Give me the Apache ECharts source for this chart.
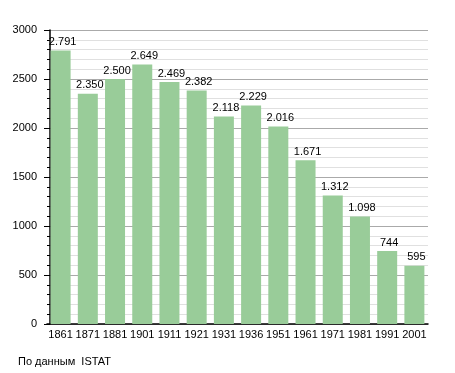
<!DOCTYPE html>
<html><head><meta charset="utf-8">
<script src="https://cdn.jsdelivr.net/npm/echarts@6/dist/echarts.min.js"></script>
<style>html,body{margin:0;padding:0;background:#fff}#c{width:455px;height:373px}</style>
</head><body><div id="c"></div>
<script>
const categories = ['1861','1871','1881','1901','1911','1921','1931','1936','1951','1961','1971','1981','1991','2001'];
const population = [2791,2350,2500,2649,2469,2382,2118,2229,2016,1671,1312,1098,744,595];
const yTicks = [0,500,1000,1500,2000,2500,3000];
const sourceNote = 'По данным  ISTAT';

const chart = echarts.init(document.getElementById('c'), null, {renderer:'canvas'});
const font = 'Liberation Sans, Arial, sans-serif';
chart.setOption({
  animation:false,
  grid:{left:47,right:27,top:30,bottom:49},
  graphic:[{type:'text',left:18,top:356,style:{text:sourceNote,font:'11px '+font,fill:'#000'}}],
  xAxis:{type:'category',data:categories,
    axisLine:{lineStyle:{color:'#000',width:1.5}},axisTick:{show:false},
    axisLabel:{color:'#000',fontSize:11,fontFamily:font,margin:5,interval:0}},
  yAxis:{type:'value',min:yTicks[0],max:yTicks[yTicks.length-1],interval:500,offset:-3,
    axisLine:{show:true,lineStyle:{color:'#000',width:1.5}},
    axisTick:{show:true,length:6,lineStyle:{color:'#000'}},
    minorTick:{show:true,splitNumber:5,length:3,lineStyle:{color:'#000'}},
    splitLine:{lineStyle:{color:'#aaa'}},
    minorSplitLine:{show:true,lineStyle:{color:'#e0e0e0'}},
    axisLabel:{color:'#000',fontSize:11,fontFamily:font,margin:13,formatter:v=>String(v)}},
  series:[{type:'bar',data:population,barWidth:20,
    itemStyle:{color:'#99cc99'},
    label:{show:true,position:'top',distance:3,offset:[2,0],color:'#000',fontSize:11,fontFamily:font,
      formatter:p=>String(p.value).replace(/\B(?=(\d{3})+(?!\d))/g,'.')}}]
});
</script></body></html>
